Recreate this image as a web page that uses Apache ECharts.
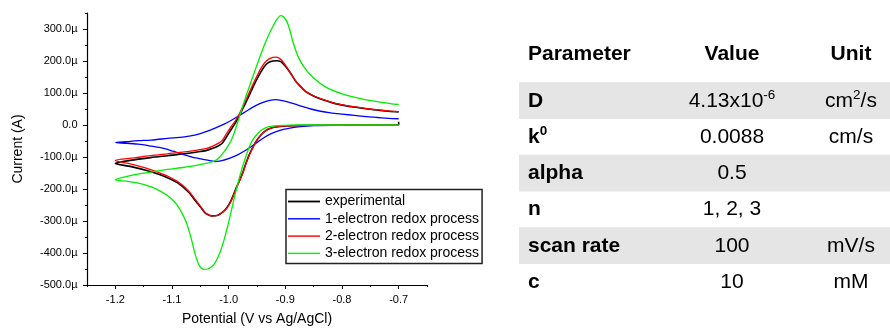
<!DOCTYPE html>
<html>
<head>
<meta charset="utf-8">
<title>Cyclic voltammetry: experiment vs simulation</title>
<script src="https://cdn.jsdelivr.net/npm/echarts@6/dist/echarts.min.js"></script>
<style>
  html, body { margin: 0; padding: 0; background: #fff; }
  #chart { width: 890px; height: 331px; }
</style>
</head>
<body>
<div id="chart"></div>
<script>
// Cyclic voltammograms: [potential (V vs Ag/AgCl), current (µA)].
// Each scan starts at -0.7 V, sweeps to -1.2 V and returns to -0.7 V.
const experimental = [
  [-0.700, 10], [-0.700, 1], [-0.750, 0], [-0.800, 0], [-0.850, -1], [-0.880, -2],
  [-0.900, -3], [-0.917, -6], [-0.926, -10], [-0.934, -17], [-0.943, -31], [-0.952, -52],
  [-0.958, -72], [-0.964, -94], [-0.970, -122], [-0.975, -148], [-0.981, -174], [-0.987, -198],
  [-0.996, -237], [-1.003, -258], [-1.008, -268], [-1.019, -282], [-1.030, -284], [-1.040, -277],
  [-1.049, -258], [-1.058, -238], [-1.072, -208], [-1.090, -181], [-1.114, -160], [-1.143, -143],
  [-1.172, -130], [-1.200, -120],
  [-1.167, -109], [-1.138, -102], [-1.108, -96], [-1.078, -90], [-1.058, -85], [-1.040, -80],
  [-1.028, -73], [-1.017, -64], [-1.011, -56], [-1.004, -38], [-0.996, -15], [-0.988, 7],
  [-0.981, 30], [-0.974, 55], [-0.967, 80], [-0.960, 107], [-0.952, 137], [-0.944, 163],
  [-0.937, 183], [-0.930, 195], [-0.922, 200], [-0.915, 201], [-0.908, 198], [-0.902, 188],
  [-0.896, 175], [-0.889, 157], [-0.881, 135], [-0.873, 120], [-0.864, 104], [-0.852, 92],
  [-0.840, 83], [-0.825, 74], [-0.810, 66], [-0.790, 59], [-0.770, 54], [-0.750, 49],
  [-0.735, 46], [-0.718, 43], [-0.700, 41]
];

const oneElectron = [
  [-0.700, 0], [-0.750, -0.5], [-0.800, -1], [-0.850, -2], [-0.878, -6], [-0.895, -11],
  [-0.908, -16], [-0.925, -27], [-0.940, -42], [-0.955, -61], [-0.970, -79], [-0.985, -94],
  [-0.999, -104], [-1.012, -111], [-1.025, -114], [-1.037, -110], [-1.049, -106], [-1.058, -103],
  [-1.078, -93], [-1.098, -82], [-1.120, -71], [-1.140, -65], [-1.160, -60], [-1.180, -57],
  [-1.200, -55],
  [-1.180, -52], [-1.160, -49], [-1.137, -47], [-1.108, -42], [-1.078, -37], [-1.058, -31],
  [-1.040, -21], [-1.022, -8], [-1.008, 3], [-0.995, 15], [-0.981, 30], [-0.969, 43],
  [-0.958, 55], [-0.946, 66], [-0.934, 74], [-0.925, 78], [-0.917, 79], [-0.908, 77],
  [-0.896, 72], [-0.884, 66], [-0.870, 58], [-0.855, 50], [-0.838, 43], [-0.820, 38],
  [-0.800, 34], [-0.778, 30], [-0.757, 26], [-0.737, 23.5], [-0.718, 21], [-0.700, 19.5]
];

const twoElectron = [
  [-0.700, 0], [-0.750, 0], [-0.800, 0], [-0.850, -1], [-0.880, -2], [-0.900, -3],
  [-0.917, -6], [-0.926, -10], [-0.934, -17], [-0.943, -31], [-0.952, -53], [-0.958, -73],
  [-0.964, -96], [-0.970, -124], [-0.975, -150], [-0.981, -176], [-0.987, -200], [-0.996, -238],
  [-1.003, -259], [-1.008, -269], [-1.019, -282], [-1.030, -284], [-1.040, -276], [-1.049, -256],
  [-1.058, -235], [-1.072, -204], [-1.090, -177], [-1.114, -155], [-1.143, -136], [-1.172, -122],
  [-1.200, -111],
  [-1.167, -103], [-1.138, -96], [-1.108, -90], [-1.078, -84], [-1.058, -79], [-1.040, -74],
  [-1.028, -66], [-1.017, -56], [-1.011, -47], [-1.004, -28], [-0.996, -6], [-0.988, 14],
  [-0.981, 35], [-0.974, 61], [-0.967, 88], [-0.960, 116], [-0.952, 146], [-0.944, 174],
  [-0.937, 193], [-0.930, 205], [-0.922, 211], [-0.917, 212], [-0.911, 209], [-0.904, 197],
  [-0.896, 177], [-0.889, 157], [-0.881, 136], [-0.873, 121], [-0.864, 105], [-0.852, 93],
  [-0.840, 84], [-0.825, 75], [-0.810, 67], [-0.790, 60], [-0.770, 55], [-0.750, 50],
  [-0.735, 47], [-0.718, 44], [-0.700, 42]
];

const threeElectron = [
  [-0.700, 0], [-0.800, 0], [-0.880, 0], [-0.900, -1], [-0.915, -2], [-0.928, -5],
  [-0.936, -10], [-0.943, -17], [-0.950, -29], [-0.958, -48], [-0.964, -70], [-0.970, -100],
  [-0.978, -145], [-0.984, -185], [-0.990, -227], [-0.996, -273], [-1.002, -318], [-1.008, -358],
  [-1.014, -392], [-1.020, -417], [-1.025, -433], [-1.031, -444], [-1.037, -450], [-1.044, -451],
  [-1.049, -446], [-1.053, -435], [-1.057, -416], [-1.061, -392], [-1.065, -362], [-1.070, -330],
  [-1.075, -303], [-1.081, -280], [-1.088, -258], [-1.096, -239], [-1.107, -222], [-1.119, -208],
  [-1.134, -195], [-1.149, -186], [-1.164, -180], [-1.178, -176], [-1.200, -171],
  [-1.183, -162], [-1.166, -155], [-1.137, -147], [-1.108, -139], [-1.078, -132], [-1.058, -126],
  [-1.037, -119], [-1.027, -114], [-1.020, -107], [-1.010, -88], [-1.000, -62], [-0.993, -38],
  [-0.986, -2], [-0.981, 26], [-0.975, 60], [-0.969, 92], [-0.961, 133], [-0.950, 188],
  [-0.937, 250], [-0.929, 283], [-0.922, 308], [-0.915, 330], [-0.908, 342], [-0.902, 336],
  [-0.896, 318], [-0.891, 290], [-0.887, 262], [-0.878, 216], [-0.867, 181], [-0.852, 150],
  [-0.830, 120], [-0.800, 97], [-0.780, 88], [-0.762, 80], [-0.745, 75], [-0.730, 71],
  [-0.715, 67], [-0.700, 64]
];

// Axis ticks
const xMajorTicks = [-1.2, -1.1, -1.0, -0.9, -0.8, -0.7];
const xMinorTicks = [-1.25, -1.15, -1.05, -0.95, -0.85, -0.75, -0.65];
const yMajorTicks = [-500, -400, -300, -200, -100, 0, 100, 200, 300];
const yMinorTicks = [-450, -350, -250, -150, -50, 50, 150, 250, 350];

// Simulation parameter table
const tableHeader = ['Parameter', 'Value', 'Unit'];
const paramNames = ['D', '{b|k}{bsup|0}', 'alpha', 'n', 'scan rate', 'c'];
const paramValues = ['4.13x10{sup|-6}', '0.0088', '0.5', '1, 2, 3', '100', '10'];
const paramUnits = ['cm{sup|2}/s', 'cm/s', '', '', 'mV/s', 'mM'];

const FONT = '"Liberation Sans", Arial, Helvetica, sans-serif';
const TABLE_FONT_SIZE = 21;

function buildTable() {
  const els = [];
  const rowTop = 82.3, rowH = 36.25, colName = 528, colValue = 732, colUnit = 851;
  const rich = {
    sup: { fontSize: 13.5, fontFamily: FONT, lineHeight: 13, verticalAlign: 'top', fill: '#000' },
    b: { fontSize: TABLE_FONT_SIZE, fontFamily: FONT, fontWeight: 'bold', lineHeight: 25, fill: '#000' },
    bsup: { fontSize: 13.5, fontFamily: FONT, fontWeight: 'bold', lineHeight: 13, verticalAlign: 'top', fill: '#000' }
  };
  for (let i = 0; i < paramNames.length; i += 2) {
    els.push({
      type: 'rect', silent: true, z: 1,
      shape: { x: 519, y: rowTop + i * rowH, width: 371, height: 36.6 },
      style: { fill: '#e5e5e5' }
    });
  }
  const headerX = [colName, colValue, colUnit];
  const headerAlign = ['left', 'center', 'center'];
  tableHeader.forEach((h, k) => {
    els.push({
      type: 'text', silent: true, z: 2,
      style: { text: h, x: headerX[k], y: 54, align: headerAlign[k], verticalAlign: 'middle',
               fontSize: TABLE_FONT_SIZE, fontWeight: 'bold', fontFamily: FONT, fill: '#000' }
    });
  });
  paramNames.forEach((name, i) => {
    const cy = rowTop + i * rowH + rowH / 2 + 0.5;
    const cells = [
      { text: name, x: colName, align: 'left', weight: 'bold' },
      { text: paramValues[i], x: colValue, align: 'center', weight: 'normal' },
      { text: paramUnits[i], x: colUnit, align: 'center', weight: 'normal' }
    ];
    cells.forEach(c => {
      if (!c.text) return;
      els.push({
        type: 'text', silent: true, z: 2,
        style: { text: c.text, x: c.x, y: cy, align: c.align, verticalAlign: 'middle',
                 fontSize: TABLE_FONT_SIZE, fontWeight: c.weight, fontFamily: FONT, fill: '#000',
                 lineHeight: 25, rich: rich }
      });
    });
  });
  return els;
}

function curve(name, data, color, width) {
  return {
    name: name, type: 'line', data: data, xAxisIndex: 0, yAxisIndex: 0,
    symbol: 'none', smooth: 0.3, clip: true,
    lineStyle: { color: color, width: width },
    itemStyle: { color: color },
    emphasis: { disabled: true }
  };
}

// Plain line sample for each legend entry
function legendLine(name, thickness) {
  return { name: name, icon: 'path://M0,0 L32,0 L32,' + thickness + ' L0,' + thickness + ' Z' };
}

const axisColor = '#000';
const option = {
  animation: false,
  backgroundColor: '#fff',
  textStyle: { fontFamily: FONT },
  grid: { left: 87, top: 13, width: 340, height: 275 },
  legend: {
    orient: 'vertical', left: 286, top: 189.5,
    itemWidth: 32, itemHeight: 14, itemGap: 3.3,
    padding: [5, 3, 3, 2],
    borderColor: '#222', borderWidth: 1.5, backgroundColor: '#fff',
    selectedMode: false,
    textStyle: { fontSize: 14, color: '#000', fontFamily: FONT },
    data: [
      legendLine('experimental', 1.8),
      legendLine('1-electron redox process', 1.4),
      legendLine('2-electron redox process', 1.4),
      legendLine('3-electron redox process', 1.4)
    ]
  },
  xAxis: [
    {
      type: 'value', min: -1.25, max: -0.65, position: 'bottom',
      axisLine: { show: true, onZero: false, lineStyle: { color: axisColor, width: 1.2 } },
      axisTick: { show: true, customValues: xMajorTicks, length: 4, lineStyle: { color: axisColor, width: 1 } },
      axisLabel: { customValues: xMajorTicks, formatter: v => v.toFixed(1), fontSize: 11, color: '#000', margin: 9 },
      splitLine: { show: false },
      name: 'Potential (V vs Ag/AgCl)', nameLocation: 'middle', nameGap: 27,
      nameTextStyle: { fontSize: 14, color: '#000' }
    },
    {
      type: 'value', min: -1.25, max: -0.65, position: 'bottom',
      axisLine: { show: false, onZero: false },
      axisTick: { show: true, customValues: xMinorTicks, length: 2, lineStyle: { color: axisColor, width: 1 } },
      axisLabel: { show: false },
      splitLine: { show: false }
    }
  ],
  yAxis: [
    {
      type: 'value', min: -500, max: 350, position: 'left',
      axisLine: { show: true, onZero: false, lineStyle: { color: axisColor, width: 1.2 } },
      axisTick: { show: true, customValues: yMajorTicks, length: 4, lineStyle: { color: axisColor, width: 1 } },
      axisLabel: {
        customValues: yMajorTicks,
        formatter: v => (v === 0 ? '0.0' : v.toFixed(1) + 'µ'),
        fontSize: 11, color: '#000', margin: 9.5
      },
      splitLine: { show: false },
      name: 'Current (A)', nameLocation: 'middle', nameGap: 62,
      nameTextStyle: { fontSize: 14, color: '#000' }
    },
    {
      type: 'value', min: -500, max: 350, position: 'left',
      axisLine: { show: false, onZero: false },
      axisTick: { show: true, customValues: yMinorTicks, length: 2, lineStyle: { color: axisColor, width: 1 } },
      axisLabel: { show: false },
      splitLine: { show: false }
    }
  ],
  series: [
    curve('experimental', experimental, '#000000', 1.6),
    curve('1-electron redox process', oneElectron, '#0000ff', 1.3),
    curve('2-electron redox process', twoElectron, '#ff0000', 1.3),
    curve('3-electron redox process', threeElectron, '#00ee00', 1.3)
  ],
  graphic: buildTable()
};

const chart = echarts.init(document.getElementById('chart'), null, { renderer: 'canvas' });
chart.setOption(option);
</script>
</body>
</html>
